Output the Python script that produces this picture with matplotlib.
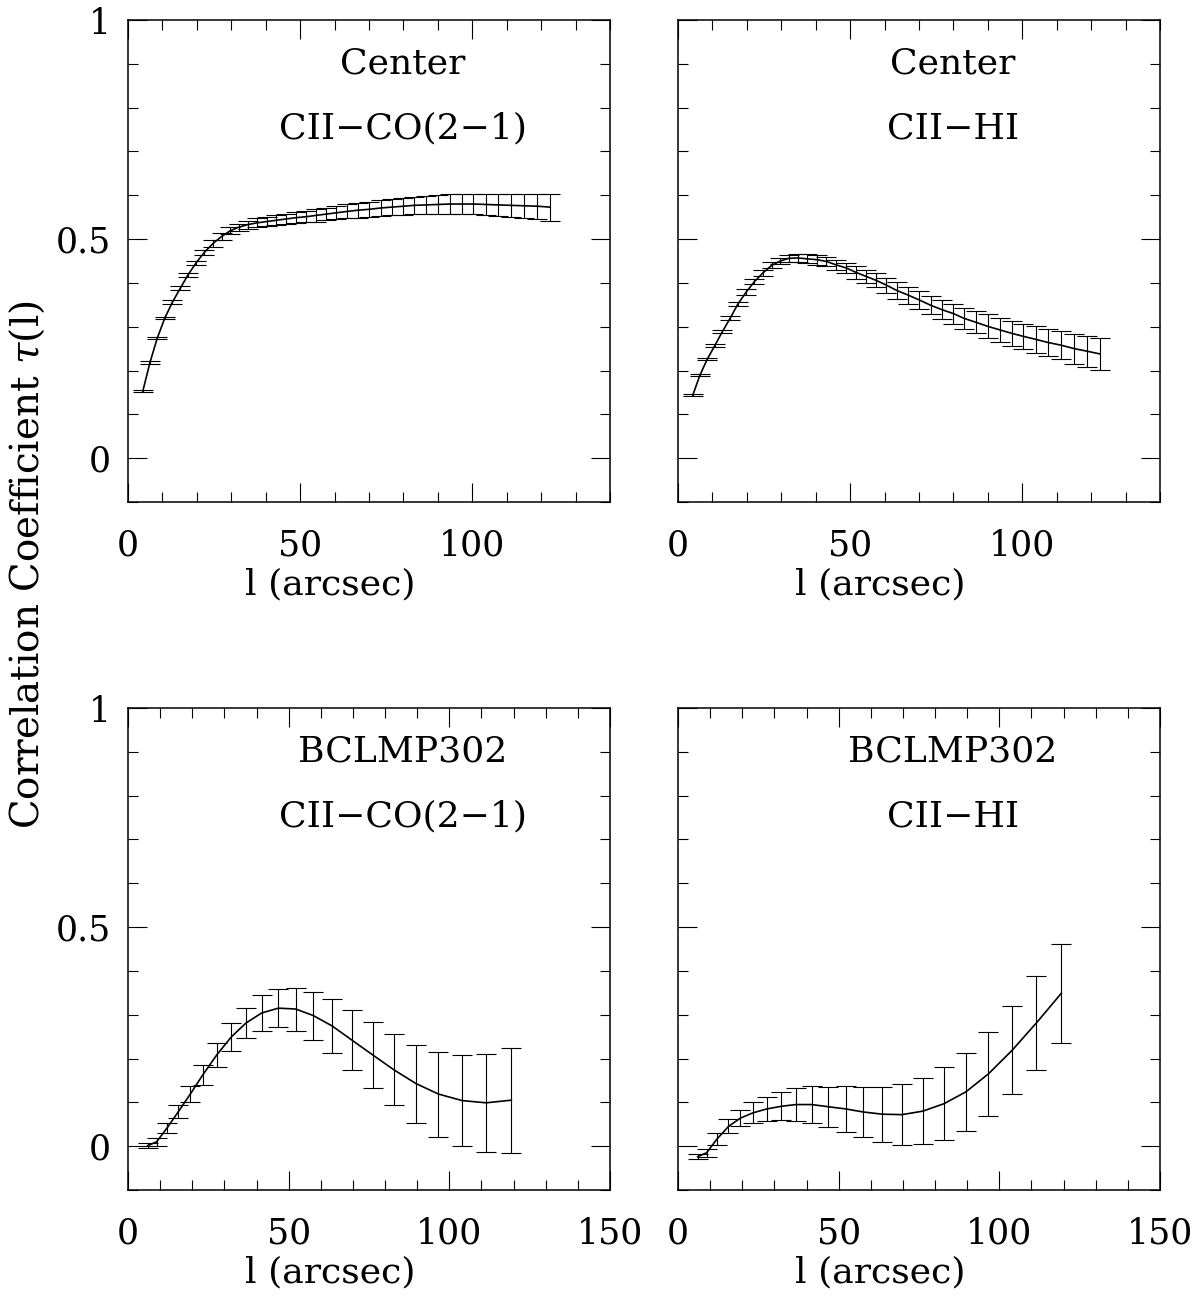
import matplotlib
matplotlib.use("Agg")
import matplotlib.pyplot as plt
from matplotlib.ticker import MultipleLocator

plt.rcParams['font.family'] = ['DejaVu Serif']
plt.rcParams['mathtext.fontset'] = 'dejavuserif'

# lags (arcsec) for the Center region
lag_center = [4.3, 6.4, 8.5, 10.7, 12.9, 15.2, 17.4, 19.8, 22.2, 24.7, 27.2, 29.7, 32.1, 34.8,
              37.4, 40.3, 43.1, 46.0, 48.9, 51.7, 54.6, 57.5, 60.5, 63.5, 66.9, 70.1, 73.4,
              76.6, 80.0, 83.1, 86.6, 89.9, 93.4, 96.9, 100.3, 104.0, 107.5, 111.2, 115.1,
              118.9, 122.5]

tau_center_co = [0.153, 0.219, 0.274, 0.320, 0.356, 0.388, 0.418, 0.446, 0.470, 0.490, 0.506,
                 0.519, 0.527, 0.533, 0.537, 0.540, 0.543, 0.546, 0.549, 0.551, 0.554, 0.557,
                 0.560, 0.563, 0.566, 0.568, 0.571, 0.573, 0.575, 0.577, 0.578, 0.579, 0.580,
                 0.580, 0.580, 0.579, 0.578, 0.577, 0.576, 0.575, 0.573]
err_center_co = [0.003, 0.003, 0.003, 0.003, 0.004, 0.004, 0.005, 0.005, 0.006, 0.007, 0.007,
                 0.008, 0.008, 0.009, 0.010, 0.010, 0.011, 0.012, 0.012, 0.013, 0.014, 0.014,
                 0.015, 0.016, 0.017, 0.017, 0.018, 0.019, 0.019, 0.020, 0.021, 0.021, 0.022,
                 0.023, 0.023, 0.024, 0.025, 0.026, 0.027, 0.029, 0.031]

tau_center_hi = [0.144, 0.190, 0.226, 0.257, 0.289, 0.320, 0.352, 0.379, 0.403, 0.423, 0.440,
                 0.450, 0.456, 0.457, 0.455, 0.453, 0.449, 0.441, 0.434, 0.424, 0.415, 0.406,
                 0.395, 0.383, 0.372, 0.361, 0.349, 0.339, 0.330, 0.319, 0.310, 0.301, 0.293,
                 0.285, 0.278, 0.271, 0.264, 0.258, 0.250, 0.244, 0.238]
err_center_hi = [0.003, 0.003, 0.003, 0.003, 0.003, 0.004, 0.005, 0.006, 0.006, 0.007, 0.007,
                 0.007, 0.008, 0.009, 0.010, 0.011, 0.011, 0.012, 0.012, 0.014, 0.015, 0.016,
                 0.017, 0.019, 0.019, 0.020, 0.021, 0.022, 0.023, 0.024, 0.025, 0.027, 0.027,
                 0.028, 0.029, 0.030, 0.031, 0.032, 0.034, 0.035, 0.037]

# lags (arcsec) for BCLMP302
lag_bclmp = [6.1, 8.9, 12.1, 15.7, 19.4, 23.3, 27.6, 32.1, 36.7, 41.6, 46.8, 52.2, 57.7,
             63.6, 69.7, 76.2, 82.8, 89.6, 96.6, 104.0, 111.5, 119.3]

tau_bclmp_co = [0.001, 0.010, 0.041, 0.079, 0.119, 0.163, 0.208, 0.249, 0.281, 0.304, 0.315,
                0.313, 0.298, 0.274, 0.242, 0.208, 0.174, 0.143, 0.119, 0.104, 0.099, 0.105]
err_bclmp_co = [0.006, 0.009, 0.011, 0.015, 0.019, 0.023, 0.027, 0.031, 0.035, 0.040, 0.044,
                0.049, 0.055, 0.061, 0.068, 0.075, 0.081, 0.089, 0.097, 0.104, 0.112, 0.120]

tau_bclmp_hi = [-0.024, -0.015, 0.016, 0.045, 0.064, 0.076, 0.085, 0.091, 0.095, 0.095, 0.090,
                0.085, 0.078, 0.073, 0.072, 0.080, 0.097, 0.124, 0.165, 0.219, 0.281, 0.349]
err_bclmp_hi = [0.006, 0.009, 0.013, 0.016, 0.019, 0.024, 0.028, 0.032, 0.037, 0.042, 0.046,
                0.052, 0.058, 0.063, 0.070, 0.076, 0.083, 0.089, 0.096, 0.101, 0.108, 0.113]

W, H = 1200, 1297
fig = plt.figure(figsize=(W / 100, H / 100), dpi=100)


def panel(left, top, x, y, e, xmax, region, pair, show_ylabels):
    ax = fig.add_axes([left / W, 1 - (top + 482) / H, 482 / W, 482 / H])
    ax.errorbar(x, y, yerr=e, fmt='none', ecolor='black', elinewidth=0.8,
                capsize=7.5, capthick=0.8)
    ax.plot(x, y, color='black', lw=1.2)
    ax.set_xlim(0, xmax)
    ax.set_ylim(-0.1, 1.0)
    ax.xaxis.set_major_locator(MultipleLocator(50))
    ax.xaxis.set_minor_locator(MultipleLocator(10))
    ax.yaxis.set_major_locator(MultipleLocator(0.5))
    ax.yaxis.set_minor_locator(MultipleLocator(0.1))
    ax.tick_params(which='both', direction='in', top=True, right=True, width=0.8)
    ax.tick_params(which='major', length=14, labelsize=25)
    ax.tick_params(which='minor', length=7)
    ax.tick_params(axis='x', pad=19)
    ax.tick_params(axis='y', pad=12)
    ax.set_xticklabels([f"{v:g}" for v in ax.get_xticks()])
    ax.set_yticks([0, 0.5, 1])
    if show_ylabels:
        ax.set_yticklabels(['0', '0.5', '1'])
    else:
        ax.set_yticklabels([])
    for s in ax.spines.values():
        s.set_linewidth(1.1)
    ax.set_xlabel('l (arcsec)', fontsize=26)
    ax.xaxis.set_label_coords(0.42, -0.135)
    ax.text(0.57, 0.909, region, transform=ax.transAxes, ha='center', va='center', fontsize=26)
    ax.text(0.57, 0.775, pair, transform=ax.transAxes, ha='center', va='center', fontsize=26)
    return ax


panel(128, 20, lag_center, tau_center_co, err_center_co, 140, 'Center', 'CII\u2212CO(2\u22121)', True)
panel(678, 20, lag_center, tau_center_hi, err_center_hi, 140, 'Center', 'CII\u2212HI', False)
panel(128, 708, lag_bclmp, tau_bclmp_co, err_bclmp_co, 150, 'BCLMP302', 'CII\u2212CO(2\u22121)', True)
panel(678, 708, lag_bclmp, tau_bclmp_hi, err_bclmp_hi, 150, 'BCLMP302', 'CII\u2212HI', False)

fig.text(27 / W, 1 - 565 / H, r'Correlation Coefficient $\tau$(l)', rotation=90,
         ha='center', va='center', fontsize=28)

fig.savefig('out.png', dpi=100)
